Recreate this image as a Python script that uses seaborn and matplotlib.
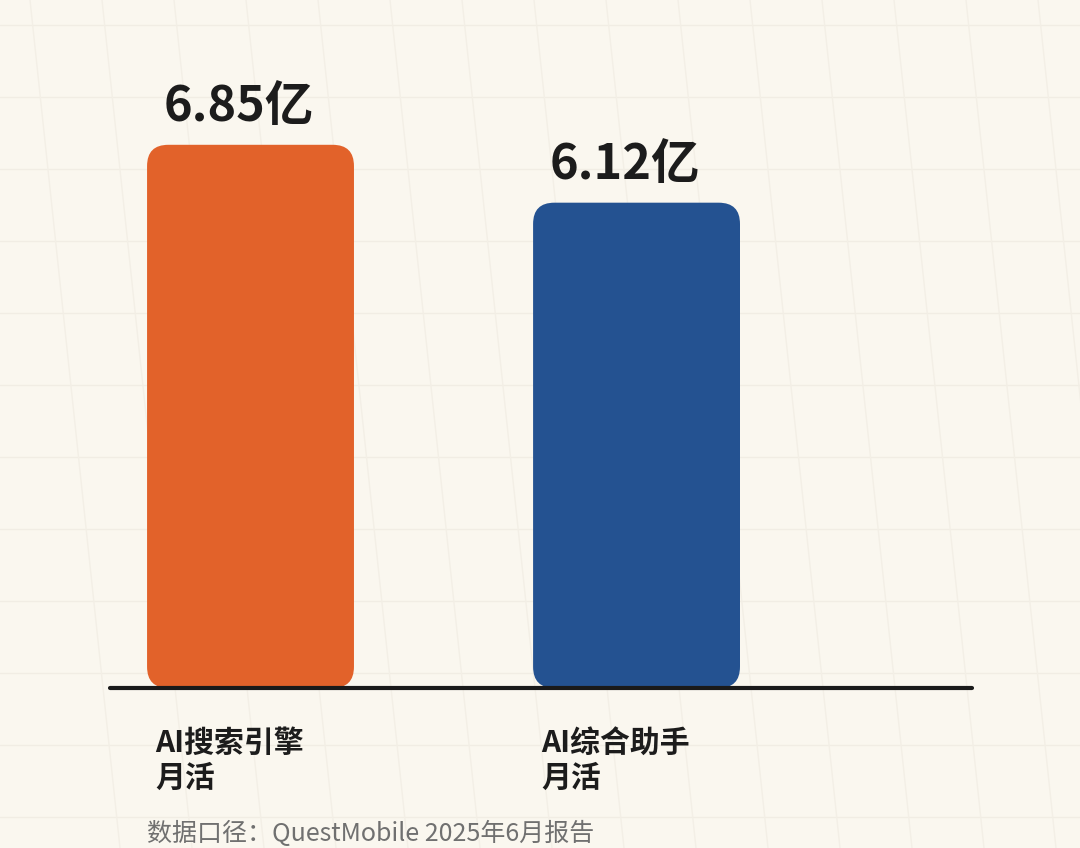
import numpy as np
import pandas as pd
import matplotlib
matplotlib.use("Agg")
import matplotlib.pyplot as plt
import seaborn as sns
from matplotlib.patches import FancyBboxPatch

# data
categories = ["AI搜索引擎\n月活", "AI综合助手\n月活"]
values = [6.85, 6.12]
value_labels = ["6.85亿", "6.12亿"]
bar_colors = ["#E2622A", "#245291"]
source_note = "数据口径：QuestMobile 2025年6月报告"

BG = "#FAF7EF"

sns.set_theme(style="white")
plt.rcParams["font.family"] = ["Noto Sans CJK SC", "DejaVu Sans"]

fig = plt.figure(figsize=(10.8, 8.48), dpi=100, facecolor=BG)

# faint paper grid behind everything
bg_ax = fig.add_axes([0, 0, 1, 1], zorder=-1)
bg_ax.set_facecolor(BG)
bg_ax.set_xlim(0, 1080)
bg_ax.set_ylim(848, 0)
for y in np.arange(25, 848, 72):
    bg_ax.axhline(y, color="#F1EDE4", lw=1.0)
for x in np.arange(30, 1200, 72):
    bg_ax.plot([x, x + 90], [0, 848], color="#F3EFE6", lw=1.0)
bg_ax.axis("off")

ax = fig.add_axes([110 / 1080, 160 / 848, 862 / 1080, 648 / 848])
ax.patch.set_alpha(0)

df = pd.DataFrame({"category": categories, "value": values})
sns.barplot(data=df, x="category", y="value", hue="category",
            palette=bar_colors, saturation=1, width=0.536, legend=False, ax=ax)

ax.set_xlim(-0.364, 1.869)
ax.set_ylim(0, 648 / 79.3)

# swap plain bars for rounded ones
aspect = 386 / 79.3
for patch in list(ax.patches):
    x0, y0 = patch.get_x(), patch.get_y()
    w, h = patch.get_width(), patch.get_height()
    fc = patch.get_facecolor()
    patch.remove()
    ax.add_patch(FancyBboxPatch((x0, y0), w, h,
                                boxstyle="round,pad=0,rounding_size=0.055",
                                mutation_aspect=aspect, fc=fc, ec="none", zorder=2))

# value labels
for i, (v, lab) in enumerate(zip(values, value_labels)):
    ax.text(i - 0.03, v + 0.17, lab, ha="center", va="bottom",
            fontsize=35, fontweight="bold", color="#1c1c1c")

# category labels under the baseline
for i, cat in enumerate(categories):
    ax.text(i - 0.247, -0.5, cat, ha="left", va="top", fontsize=21.5,
            fontweight="bold", color="#1c1c1c", linespacing=1.2)

ax.axhline(0, color="#1a1a1a", lw=3, zorder=3, clip_on=False)
ax.set_xticks([])
ax.set_yticks([])
ax.set_xlabel("")
ax.set_ylabel("")
sns.despine(ax=ax, left=True, bottom=True)

fig.text(147 / 1080, 1 - 834 / 848, source_note, ha="left", va="center",
         fontsize=18, color="#707070")

fig.savefig("out.png", dpi=100, facecolor=BG)
